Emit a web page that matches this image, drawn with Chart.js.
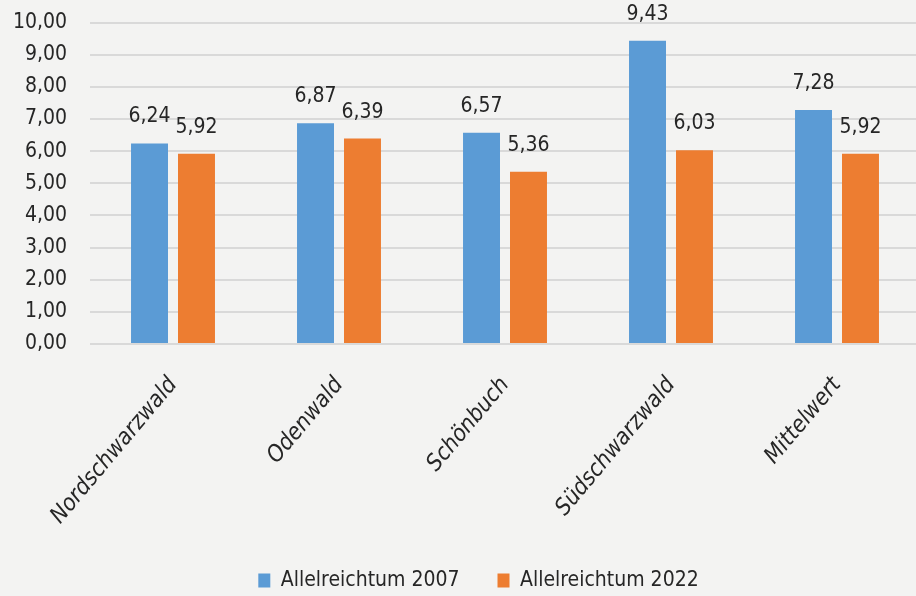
<!DOCTYPE html>
<html><head><meta charset="utf-8">
<script src="https://cdn.jsdelivr.net/npm/chart.js@4"></script>
<style>
html,body{margin:0;padding:0;overflow:hidden;background:#f3f3f2;width:916px;height:596px}
#wrap{position:absolute;left:0;top:0;width:920px;height:601px}
canvas{display:block}
</style></head><body><div id="wrap"><canvas id="c" width="920" height="601" style="width:920px;height:601px"></canvas></div>
<script>
const categories = ['Nordschwarzwald', 'Odenwald', 'Schönbuch', 'Südschwarzwald', 'Mittelwert'];
const values2007 = [6.24, 6.87, 6.57, 9.43, 7.28];
const values2022 = [5.92, 6.39, 5.36, 6.03, 5.92];
const seriesLabels = ['Allelreichtum 2007', 'Allelreichtum 2022'];
const seriesColors = ['#5B9BD5', '#ED7D31'];
const yMin = 0, yMax = 10, yStep = 1;

function hasFont(f) {
  const c = document.createElement('canvas').getContext('2d');
  const t = 'mmmmmlllii10,00Allelreichtum';
  const r = [];
  for (const g of ['monospace', 'serif']) {
    c.font = '40px ' + g; const a = c.measureText(t).width;
    c.font = '40px "' + f + '", ' + g; const b = c.measureText(t).width;
    r.push(a !== b);
  }
  return r[0] && r[1];
}
let FAM = 'Open Sans', FS = 20;
if (hasFont('Liberation Sans Narrow')) { FAM = 'Liberation Sans Narrow'; FS = 25; }
else if (hasFont('DejaVu Sans Condensed')) { FAM = 'DejaVu Sans Condensed'; FS = 21; }
const XFS = Math.round(FS * 1.1);

const fmt = v => v.toFixed(2).replace('.', ',');
const TXT = '#262626';

const valueLabels = {
  id: 'valueLabels',
  afterDatasetsDraw(chart) {
    const ctx = chart.ctx;
    ctx.save();
    ctx.font = FS + 'px "' + FAM + '"';
    ctx.fillStyle = TXT;
    ctx.textAlign = 'center';
    ctx.textBaseline = 'alphabetic';
    chart.data.datasets.forEach((ds, i) => {
      chart.getDatasetMeta(i).data.forEach((bar, j) => {
        ctx.fillText(fmt(ds.data[j]), bar.x, bar.y - 21);
      });
    });
    ctx.restore();
  }
};

new Chart(document.getElementById('c'), {
  type: 'bar',
  data: {
    labels: categories,
    datasets: [
      { label: seriesLabels[0], data: values2007, backgroundColor: seriesColors[0], borderWidth: 0 },
      { label: seriesLabels[1], data: values2022, backgroundColor: seriesColors[1], borderWidth: 0 }
    ]
  },
  options: {
    responsive: false,
    animation: false,
    devicePixelRatio: 1,
    categoryPercentage: 0.566,
    barPercentage: 0.787,
    layout: { padding: { left: 37, top: 22.5, right: 0, bottom: 0 } },
    plugins: {
      tooltip: { enabled: false },
      legend: {
        position: 'bottom',
        labels: {
          boxWidth: 12, boxHeight: 14, padding: 38,
          color: TXT,
          font: { family: FAM, size: FS }
        }
      }
    },
    scales: {
      y: {
        min: yMin, max: yMax,
        afterFit(s) {
          s.width = 53;
          s.paddingTop = 0; s.paddingBottom = 0;
          s._computeLabelArea = () => undefined;
        },
        ticks: { stepSize: yStep, padding: 23, color: TXT, font: { family: FAM, size: FS }, callback: v => fmt(v) },
        grid: { color: '#d9d9d9', lineWidth: 2, drawTicks: false },
        border: { display: false }
      },
      x: {
        afterFit(s) { s.height = 188; },
        ticks: { minRotation: 50, maxRotation: 50, padding: 20, color: TXT, font: { family: FAM, size: XFS, style: 'italic' } },
        grid: { display: false },
        border: { display: false }
      }
    }
  },
  plugins: [valueLabels]
});
</script>
</body></html>
